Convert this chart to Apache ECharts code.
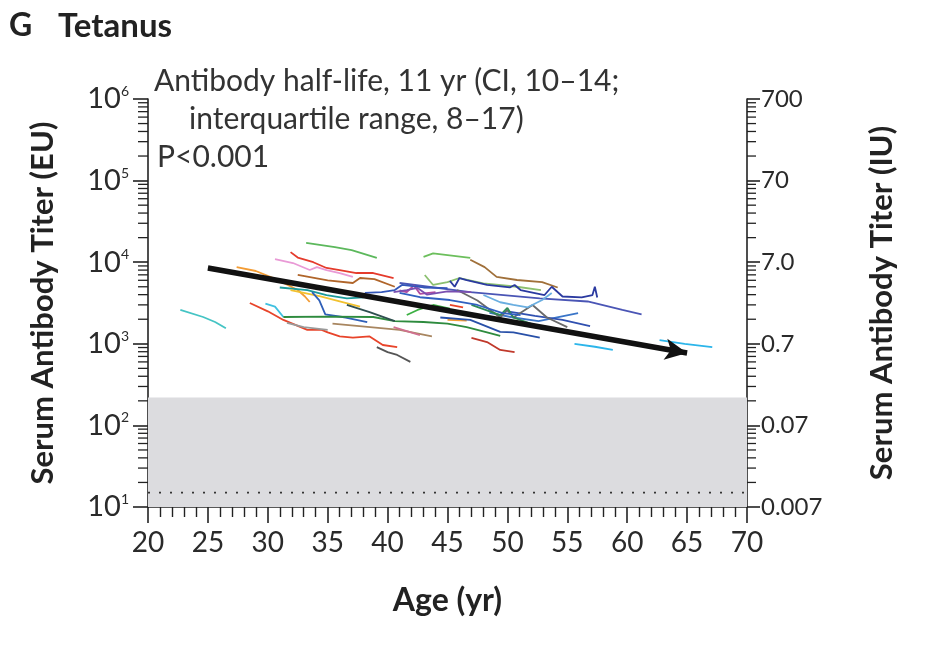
<!DOCTYPE html>
<html>
<head>
<meta charset="utf-8">
<script src="https://cdn.jsdelivr.net/npm/echarts@6/dist/echarts.min.js"></script>
<style>
html,body{margin:0;padding:0;background:#fff;}
#chart{width:933px;height:650px;}
</style>
</head>
<body>
<div id="chart"></div>
<script>
// ---- data ----
const xTicks = [20, 25, 30, 35, 40, 45, 50, 55, 60, 65, 70];
const leftTickExponents = [1, 2, 3, 4, 5, 6];
const rightTickLabels = ['0.007', '0.07', '0.7', '7.0', '70', '700'];
const protectiveLevel = 220;      // top of gray band (EU)
const detectionLimit = 15;        // dotted line (EU)
const trendStart = [25, 8500];
const trendEnd = [65, 770];

const subjectColors = [
  '#45c4c4', '#5cb85c', '#e53b2c', '#e99ad6', '#b0652a', '#f39c34', '#1b9a9a', '#f2c12e',
  '#2f5fb8', '#3fc0e0', '#2e8b3e', '#e8442a', '#555555', '#9a9a9a', '#a88660', '#d07090',
  '#6cbf5c', '#a0703a', '#8cc070', '#2b3aa0', '#4a55b5', '#3a75c8', '#3050b0', '#2cb5ea',
  '#2cb5ea', '#6a6a6a', '#2e8b57', '#c0392b', '#f39c34', '#e8442a', '#b04aa0', '#3060c0',
  '#3cb043', '#2850a8', '#6aaee0', '#3356b8', '#7a4fb0', '#2f4f4f'
];
const subjectAges = [
  [22.7, 24.6, 25.6, 26.5],
  [33.2, 35.6, 37.0, 39.1],
  [31.9, 32.5, 33.8, 34.9, 36.0, 37.4, 38.8, 40.5],
  [30.6, 32.1, 33.5, 34.1, 34.9, 36.0, 37.1],
  [32.5, 35.0, 37.1, 37.7, 38.9, 40.6],
  [27.4, 29.0, 30.2, 31.2, 32.5, 33.1, 33.5],
  [31.0, 33.3, 34.9, 36.6, 38.0],
  [31.9, 34.4, 36.4, 37.7],
  [33.7, 34.3, 34.8, 36.5, 38.3],
  [29.8, 30.6, 31.3],
  [31.3, 35.0, 38.8, 40.6, 43.0, 45.0, 46.6, 48.3, 49.4],
  [28.5, 30.0, 31.3, 33.3, 34.5, 35.0, 36.0, 37.1, 38.5, 39.6, 40.8],
  [39.1, 40.0, 40.8, 41.9],
  [31.6, 33.0, 35.0],
  [35.4, 41.0, 43.7],
  [40.5, 42.7],
  [43.0, 43.8, 46.9],
  [46.9, 48.1, 49.1, 50.8, 52.9, 54.2],
  [43.1, 43.8, 45.0, 46.0, 48.0, 50.8, 52.8],
  [45.2, 45.6, 46.0, 46.6, 48.3, 50.2, 50.6, 51.1, 53.1, 53.7, 54.6, 56.2, 57.1, 57.3, 57.5],
  [41.0, 46.9, 52.7, 56.7, 59.6, 61.2],
  [48.5, 50.5, 52.6, 55.9],
  [50.0, 52.3, 54.6, 56.9],
  [55.6, 57.3, 58.8],
  [62.7, 64.8, 67.1],
  [45.8, 47.5, 49.4, 50.0, 50.5, 52.1, 53.3, 55.0],
  [47.0, 49.4, 50.0, 50.5, 52.0],
  [47.0, 48.3, 49.4, 50.6],
  [45.0, 46.6],
  [45.2, 46.3],
  [41.0, 41.6, 42.2, 42.7, 44.0],
  [41.0, 42.7, 45.2, 47.5, 49.6, 51.1],
  [41.6, 42.5, 43.8, 45.2],
  [44.4, 46.9, 49.4, 50.5, 52.7],
  [48.0, 49.4, 50.5, 51.7, 52.9, 53.7],
  [38.1, 39.5, 40.6, 41.2, 43.0, 45.0],
  [40.5, 41.6, 42.5, 43.3, 45.0, 47.0],
  [36.6, 38.5, 40.6]
];
const subjectTiters = [
  [2600, 2130, 1850, 1550],
  [17200, 15300, 14100, 11300],
  [13300, 11400, 10000, 8500, 8000, 7370, 7370, 6400],
  [10900, 9770, 8020, 8700, 8020, 7370, 6600],
  [7000, 6000, 5560, 6400, 6200, 5000],
  [8700, 7800, 6600, 5700, 4560, 3800, 3250],
  [4900, 4560, 3960, 3600, 3700],
  [4560, 3800, 3200, 2850],
  [4300, 3400, 2300, 2100, 1840],
  [3100, 2850, 2130],
  [2130, 2150, 2130, 1900, 1850, 1770, 1600, 1380, 1250],
  [3160, 2500, 1960, 1480, 1480, 1380, 1230, 1190, 1230, 967, 910],
  [910, 790, 730, 600],
  [1800, 1600, 1480],
  [1770, 1480, 1230],
  [1600, 1280],
  [11600, 12800, 11300],
  [10700, 8700, 6600, 6050, 5700, 4900],
  [6970, 5260, 5700, 6400, 5500, 5000, 4560],
  [5900, 5000, 6400, 6050, 5260, 4900, 5260, 4560, 3960, 5000, 3800, 3700, 3960, 5000, 3700],
  [5560, 4300, 3600, 3300, 2600, 2300],
  [2400, 2100, 1900, 2370],
  [2500, 2200, 1960, 1650],
  [1000, 920, 840],
  [1110, 1000, 910],
  [4560, 3400, 2100, 2600, 2100, 2990, 2100, 1600],
  [3000, 2250, 2750, 2100, 1750],
  [1180, 1050, 840, 790],
  [1960, 1920],
  [2990, 2800],
  [4500, 4300, 5200, 4100, 4300],
  [4200, 3720, 3440, 2990, 2370, 2250],
  [2250, 2600, 2990, 2700],
  [2100, 1960, 1400, 1380, 1190],
  [3960, 3230, 2990, 2800, 3440, 4200],
  [4200, 4300, 4560, 5260, 4900, 4800],
  [4300, 4560, 4830, 4000, 4400, 4300],
  [3000, 2450, 1900]
];

// ---- build ----
const FONT = 'Lato';
const minorTickValues = [];
for (let e = 1; e <= 5; e++) {
  for (let k = 2; k <= 9; k++) minorTickValues.push([20, k * Math.pow(10, e)]);
}

const subjectSeries = subjectAges.map((ages, i) => ({
  type: 'line',
  data: ages.map((a, j) => [a, subjectTiters[i][j]]),
  symbol: 'none',
  smooth: false,
  lineStyle: { color: subjectColors[i], width: 1.8 },
  z: 3,
  silent: true
}));

const chart = echarts.init(document.getElementById('chart'));
const option = {
  backgroundColor: '#ffffff',
  animation: false,
  grid: { left: 148, right: 186, top: 99, bottom: 143, containLabel: false },
  xAxis: {
    type: 'value', min: 20, max: 70, interval: 5,
    name: 'Age (yr)', nameLocation: 'middle', nameGap: 78,
    nameTextStyle: { fontFamily: FONT, fontWeight: 'bold', fontSize: 32, color: '#222' },
    axisLine: { show: true, lineStyle: { color: '#222', width: 1.6 } },
    axisTick: { show: true, length: 16, lineStyle: { color: '#222', width: 1.6 } },
    minorTick: { show: true, splitNumber: 5, length: 10, lineStyle: { color: '#222', width: 1.4 } },
    axisLabel: {
      fontFamily: FONT, fontSize: 28, color: '#2a2a2a', margin: 22,
      formatter: v => (xTicks.indexOf(v) >= 0 ? String(v) : '')
    },
    splitLine: { show: false }
  },
  yAxis: [
    {
      type: 'log', logBase: 10, min: 10, max: 1e6, position: 'left',
      name: 'Serum Antibody Titer (EU)', nameLocation: 'middle', nameGap: 90, nameRotate: 90,
      nameTextStyle: { fontFamily: FONT, fontWeight: 'bold', fontSize: 31, color: '#222' },
      axisLine: { show: true, lineStyle: { color: '#222', width: 1.6 } },
      axisTick: { show: true, length: 15, lineStyle: { color: '#222', width: 1.6 } },
      axisLabel: {
        margin: 19, fontFamily: FONT, color: '#2a2a2a',
        formatter: v => '{b|10}{s|' + leftTickExponents[Math.round(Math.log10(v)) - 1] + '}',
        rich: {
          b: { fontFamily: FONT, fontSize: 29, color: '#2a2a2a' },
          s: { fontFamily: FONT, fontSize: 14, color: '#2a2a2a', padding: [0, 0, 15, 0] }
        }
      },
      splitLine: { show: false }
    },
    {
      type: 'log', logBase: 10, min: 10, max: 1e6, position: 'right',
      name: 'Serum Antibody Titer (IU)', nameLocation: 'middle', nameGap: 119, nameRotate: 90,
      nameTextStyle: { fontFamily: FONT, fontWeight: 'bold', fontSize: 31, color: '#222' },
      axisLine: { show: true, lineStyle: { color: '#222', width: 1.6 } },
      axisTick: { show: true, length: 13, lineStyle: { color: '#222', width: 1.6 } },
      axisLabel: {
        margin: 14, fontFamily: FONT, fontSize: 24, color: '#2a2a2a',
        formatter: v => rightTickLabels[Math.round(Math.log10(v)) - 1]
      },
      splitLine: { show: false }
    }
  ],
  graphic: [
    { type: 'text', left: 9, top: 10, style: { text: 'G', fontFamily: FONT, fontWeight: 'bold', fontSize: 32, fill: '#222' } },
    { type: 'text', left: 58, top: 10, style: { text: 'Tetanus', fontFamily: FONT, fontWeight: 'bold', fontSize: 33, fill: '#222' } },
    { type: 'text', left: 154, top: 66, style: { text: 'Antibody half-life, 11 yr (CI, 10\u201314;', fontFamily: FONT, fontSize: 30, fill: '#333' } },
    { type: 'text', left: 189, top: 104, style: { text: 'interquartile range, 8\u201317)', fontFamily: FONT, fontSize: 30, fill: '#333' } },
    { type: 'text', left: 157, top: 142, style: { text: 'P<0.001', fontFamily: FONT, fontSize: 30, fill: '#333' } }
  ],
  series: [
    {
      type: 'line',
      data: [[20, detectionLimit], [70, detectionLimit]],
      symbol: 'none',
      lineStyle: { color: '#333', width: 1.8, type: [2, 9] },
      z: 2, silent: true,
      markArea: {
        silent: true,
        itemStyle: { color: '#dcdcdf' },
        data: [[{ coord: [20, 10] }, { coord: [70, protectiveLevel] }]]
      }
    },
    {
      type: 'custom',
      data: minorTickValues,
      silent: true,
      z: 4,
      renderItem: function (params, api) {
        const v = api.value(1);
        const pl = api.coord([20, v]);
        const pr = api.coord([70, v]);
        return {
          type: 'group',
          children: [
            { type: 'line', shape: { x1: pl[0] - 10, y1: pl[1], x2: pl[0], y2: pl[1] }, style: { stroke: '#222', lineWidth: 1.3 } },
            { type: 'line', shape: { x1: pr[0], y1: pr[1], x2: pr[0] + 9, y2: pr[1] }, style: { stroke: '#222', lineWidth: 1.3 } }
          ]
        };
      }
    },
    ...subjectSeries,
    {
      type: 'line',
      data: [],
      z: 6,
      markLine: {
        silent: true,
        symbol: ['none', 'arrow'],
        symbolSize: [16, 22],
        label: { show: false },
        lineStyle: { color: '#111', width: 5.5, type: 'solid' },
        data: [[{ coord: trendStart }, { coord: trendEnd }]]
      }
    }
  ]
};
chart.setOption(option);
</script>
</body>
</html>
